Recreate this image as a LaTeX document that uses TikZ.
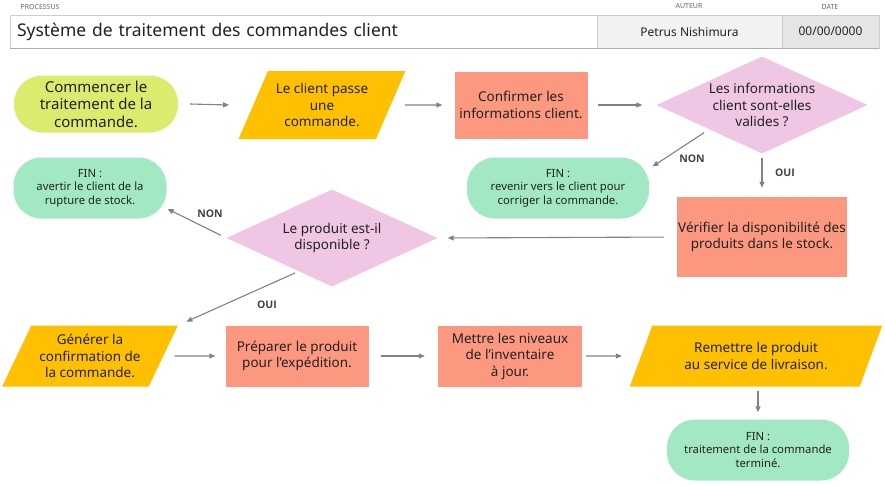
\documentclass[tikz,border=0pt]{standalone}
\usepackage{fontspec}
\setmainfont{Noto Sans}
\newfontfamily\grasfont{Open Sans}
\usetikzlibrary{shapes.geometric,arrows.meta}
\definecolor{vertclair}{RGB}{220,234,110}
\definecolor{orangef}{RGB}{254,192,0}
\definecolor{saumon}{RGB}{253,152,128}
\definecolor{rosec}{RGB}{239,198,228}
\definecolor{menthe}{RGB}{161,232,195}
\definecolor{fleche}{RGB}{130,130,130}
\definecolor{texte}{RGB}{34,34,34}
\definecolor{cadre}{RGB}{205,205,205}
\begin{document}
\begin{tikzpicture}[x=1pt, y=-1pt,
    % styles des cases
    base/.style={align=center, inner sep=0pt, text=texte, font=\fontsize{13.5}{16.5}\selectfont},
    etape/.style={base, rectangle, fill=saumon},
    donnee/.style={base, trapezium, trapezium left angle=60, trapezium right angle=120,
        trapezium stretches=true, fill=orangef},
    question/.style={base, diamond, aspect=2.2, fill=rosec, minimum width=211, minimum height=97},
    fin/.style={base, rectangle, rounded corners=28, fill=menthe, minimum height=61,
        font=\fontsize{11.3}{13.5}\selectfont},
    lien/.style={draw=fleche, line width=1.1pt, -{Triangle[length=6pt, width=5pt]}},
    reponse/.style={text=texte!85, font=\grasfont\bfseries\fontsize{10.5}{12}\selectfont},
    entete/.style={draw=cadre, line width=0.6pt, minimum height=33, inner sep=0pt, text=texte},
    rubrique/.style={text=black!60, font=\fontsize{7}{8}\selectfont}]

    \useasboundingbox[fill=white] (0,0) rectangle (885,485);

    % En-tete
    \node[rubrique, anchor=west] (lproc) at (17,6.5) {PROCESSUS};
    \node[rubrique] (lauteur) at (689,6.5) {AUTEUR};
    \node[rubrique] (ldate) at (830,6.5) {DATE};
    \node[entete, fill=white, minimum width=587, text width=573, align=left, inner xsep=7,
        font=\fontsize{17.5}{20}\selectfont] (titre) at (303.5,31.5) {\raisebox{-1pt}{Système de traitement des commandes client}};
    \node[entete, fill=black!5, minimum width=185, font=\fontsize{12}{14}\selectfont] (auteur) at (689.5,31.5) {Petrus Nishimura};
    \node[entete, fill=black!10, minimum width=97, font=\fontsize{12}{14}\selectfont] (date) at (830.5,31.5) {00/00/0000};
    \draw[cadre!85!black, line width=1.6pt] (titre.south west) -- (date.south east);

    % Premiere rangee
    \node[base, rectangle, rounded corners=28, fill=vertclair, minimum width=164, minimum height=57,
        font=\fontsize{15}{17.5}\selectfont] (debut) at (96,104) {Commencer le\\traitement de la\\commande.};
    \node[donnee, minimum width=167, minimum height=68] (client) at (322,105) {Le client passe\\une\\commande.};
    \node[etape, minimum width=133, minimum height=67] (confirmer) at (521,105) {Confirmer les\\informations client.};
    \node[question] (valides) at (762,105) {Les informations\\client sont-elles\\valides ?};

    % Deuxieme rangee
    \node[fin, minimum width=182] (finB) at (558,188) {FIN :\\revenir vers le client pour\\corriger la commande.};
    \node[etape, minimum width=170, minimum height=80] (verifier) at (762,237) {Vérifier la disponibilité des\\produits dans le stock.};
    \node[question] (dispo) at (332,238) {Le produit est-il\\disponible ?};
    \node[fin, minimum width=153] (finA) at (90,188) {FIN :\\avertir le client de la\\rupture de stock.};

    % Troisieme rangee
    \node[donnee, minimum width=176, minimum height=61] (generer) at (90,356) {Générer la\\confirmation de\\la commande.};
    \node[etape, minimum width=143, minimum height=61] (preparer) at (297,356) {Préparer le produit\\pour l’expédition.};
    \node[etape, minimum width=144, minimum height=61] (mettre) at (510,356) {Mettre les niveaux\\de l’inventaire\\à jour.};
    \node[donnee, minimum width=253, minimum height=61] (remettre) at (756,356) {Remettre le produit\\au service de livraison.};
    \node[fin, minimum width=182] (finC) at (758,450) {FIN :\\traitement de la commande\\terminé.};

    % Fleches
    \draw[lien] ([xshift=12]debut.east) -- ([xshift=-24]client.west);
    \draw[lien] ([xshift=14]client.east) -- ([xshift=-12]confirmer.west);
    \draw[lien] ([xshift=10]confirmer.east) -- ([xshift=-14]valides.west);
    \draw[lien, shorten <=6pt, shorten >=4pt] (valides.south west) -- (finB.12);
    \draw[lien, shorten <=4pt, shorten >=9pt] (valides.south) -- (verifier.north);
    \draw[lien, shorten <=13pt, shorten >=10pt] (verifier.west) -- (dispo.east);
    \draw[lien, shorten <=6pt, shorten >=1pt] (dispo.west) -- (finA.345);
    \draw[lien, shorten <=4pt, shorten >=9pt] (dispo.225) -- (generer.top right corner);
    \draw[lien] ([xshift=11]generer.east) -- ([xshift=-10]preparer.west);
    \draw[lien] ([xshift=12]preparer.east) -- ([xshift=-13]mettre.west);
    \draw[lien] ([xshift=4]mettre.east) -- ([xshift=-19]remettre.west);
    \draw[lien, shorten <=4pt, shorten >=7pt] (remettre.south -| finC.north) -- (finC.north);

    % Reponses
    \node[reponse] (non1) at (692,159) {NON};
    \node[reponse] (oui1) at (785,173) {OUI};
    \node[reponse] (non2) at (210,214) {NON};
    \node[reponse] (oui2) at (267,305) {OUI};
\end{tikzpicture}
\end{document}
